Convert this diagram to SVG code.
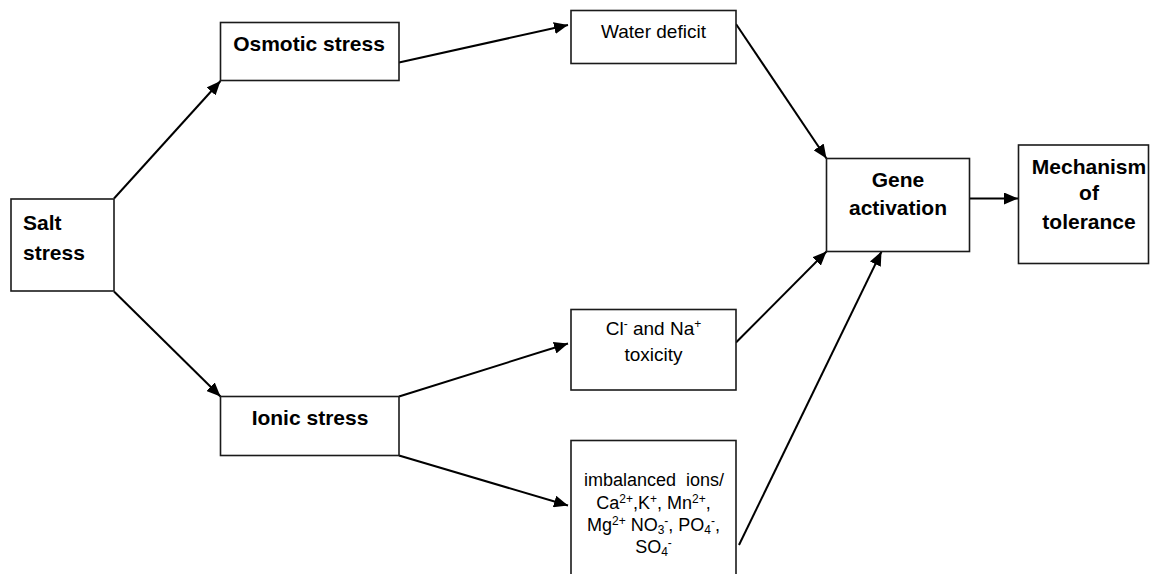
<svg xmlns="http://www.w3.org/2000/svg" width="1152" height="574" viewBox="0 0 1152 574">
  <style>
    .box { fill: #ffffff; stroke: #1a1a1a; stroke-width: 1.6; }
    .bold { font-family: "Liberation Sans", Arial, sans-serif; font-weight: bold; font-size: 21px; fill: #000; text-anchor: middle; }
    .reg { font-family: "Liberation Sans", Arial, sans-serif; font-size: 19px; fill: #000; text-anchor: middle; }
    .small { font-family: "Liberation Sans", Arial, sans-serif; font-size: 18px; fill: #000; text-anchor: middle; }
    .conn { stroke: #000; stroke-width: 2; fill: none; marker-end: url(#arrow); }
  </style>
  <defs>
    <marker id="arrow" markerUnits="userSpaceOnUse" markerWidth="16" markerHeight="12" refX="14" refY="6" orient="auto">
      <path d="M0,0 L14,6 L0,12 Z" fill="#000"/>
    </marker>
  </defs>
  <rect width="1152" height="574" fill="#ffffff"/>

  <g id="connectors">
    <line class="conn" x1="114" y1="198.5" x2="220.5" y2="81"/>
    <line class="conn" x1="114" y1="291.5" x2="220.5" y2="396.5"/>
    <line class="conn" x1="399" y1="62.5" x2="568" y2="25"/>
    <line class="conn" x1="399" y1="396.5" x2="568" y2="343.5"/>
    <line class="conn" x1="399" y1="455.5" x2="568" y2="505.5"/>
    <line class="conn" x1="736" y1="24" x2="826.5" y2="158.5"/>
    <line class="conn" x1="736" y1="342.5" x2="826.5" y2="251.5"/>
    <line class="conn" x1="739" y1="545" x2="881.5" y2="251.5"/>
    <line class="conn" x1="969.5" y1="198.5" x2="1018" y2="198.5"/>
  </g>

  <g id="salt-stress">
    <rect class="box" x="11" y="199" width="103" height="92"/>
    <text class="bold" x="23" y="230" style="text-anchor:start">Salt</text>
    <text class="bold" x="23" y="260" style="text-anchor:start">stress</text>
  </g>

  <g id="osmotic-stress">
    <rect class="box" x="220.5" y="22.5" width="178.5" height="58"/>
    <text class="bold" x="309" y="51">Osmotic stress</text>
  </g>

  <g id="ionic-stress">
    <rect class="box" x="220.5" y="396.5" width="178.5" height="59"/>
    <text class="bold" x="310" y="425">Ionic stress</text>
  </g>

  <g id="water-deficit">
    <rect class="box" x="571" y="10.5" width="165" height="53"/>
    <text class="reg" x="653.5" y="37.5">Water deficit</text>
  </g>

  <g id="ion-toxicity">
    <rect class="box" x="571" y="309.5" width="165" height="80.5"/>
    <text class="reg" x="653.5" y="335">Cl<tspan font-size="12" dy="-7">-</tspan><tspan dy="7"> and Na</tspan><tspan font-size="12" dy="-7">+</tspan></text>
    <text class="reg" x="653.5" y="361">toxicity</text>
  </g>

  <g id="imbalanced-ions">
    <rect class="box" x="571" y="440.5" width="165" height="150"/>
    <text class="small" x="654" y="486" xml:space="preserve">imbalanced  ions/</text>
    <text class="small" x="653.5" y="508.5">Ca<tspan font-size="12" dy="-6">2+</tspan><tspan dy="6">,K</tspan><tspan font-size="12" dy="-6">+</tspan><tspan dy="6">, Mn</tspan><tspan font-size="12" dy="-6">2+</tspan><tspan dy="6">,</tspan></text>
    <text class="small" x="653.5" y="531">Mg<tspan font-size="12" dy="-6">2+</tspan><tspan dy="6"> NO</tspan><tspan font-size="12" dy="3">3</tspan><tspan font-size="12" dy="-9">-</tspan><tspan dy="6">, PO</tspan><tspan font-size="12" dy="3">4</tspan><tspan font-size="12" dy="-9">-</tspan><tspan dy="6">,</tspan></text>
    <text class="small" x="653.5" y="553">SO<tspan font-size="12" dy="3">4</tspan><tspan font-size="12" dy="-9">-</tspan></text>
  </g>

  <g id="gene-activation">
    <rect class="box" x="826.5" y="158.5" width="143" height="93"/>
    <text class="bold" x="898" y="187">Gene</text>
    <text class="bold" x="898" y="215">activation</text>
  </g>

  <g id="mechanism-of-tolerance">
    <rect class="box" x="1018.5" y="145" width="130" height="118.5"/>
    <text class="bold" x="1089" y="173.5">Mechanism</text>
    <text class="bold" x="1089" y="200">of</text>
    <text class="bold" x="1089" y="228.5">tolerance</text>
  </g>
</svg>
